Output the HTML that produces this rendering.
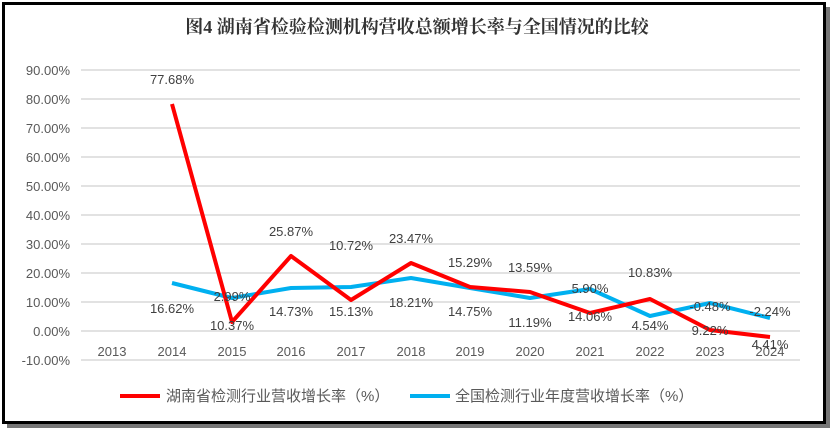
<!DOCTYPE html>
<html><head><meta charset="utf-8"><style>
html,body{margin:0;padding:0;background:#fff;}
body{width:834px;height:435px;overflow:hidden;position:relative;}
</style></head><body>
<svg width="834" height="435" xmlns="http://www.w3.org/2000/svg" style="position:absolute;left:0;top:0">
<rect x="7" y="7" width="823" height="421" fill="#777"/>
<rect x="3.5" y="3.5" width="821" height="419" fill="#fff" stroke="#000" stroke-width="3"/>
<text x="417" y="33" text-anchor="middle" font-family="'Liberation Serif','Noto Serif CJK SC',serif" font-weight="bold" font-size="18" fill="#333">图4  湖南省检验检测机构营收总额增长率与全国情况的比较</text>
<g stroke="#d9d9d9" stroke-width="1.5">
<line x1="81" x2="800" y1="70" y2="70"/><line x1="81" x2="800" y1="99" y2="99"/><line x1="81" x2="800" y1="128" y2="128"/><line x1="81" x2="800" y1="157" y2="157"/><line x1="81" x2="800" y1="186" y2="186"/><line x1="81" x2="800" y1="215" y2="215"/><line x1="81" x2="800" y1="244" y2="244"/><line x1="81" x2="800" y1="273" y2="273"/><line x1="81" x2="800" y1="302" y2="302"/><line x1="81" x2="800" y1="331" y2="331"/><line x1="81" x2="800" y1="360" y2="360"/>
</g>
<g font-family="'Liberation Sans',sans-serif" font-size="13" fill="#595959" text-anchor="end">
<text x="70" y="75">90.00%</text><text x="70" y="104">80.00%</text><text x="70" y="133">70.00%</text><text x="70" y="162">60.00%</text><text x="70" y="191">50.00%</text><text x="70" y="220">40.00%</text><text x="70" y="249">30.00%</text><text x="70" y="278">20.00%</text><text x="70" y="307">10.00%</text><text x="70" y="336">0.00%</text><text x="70" y="365">-10.00%</text>
</g>
<g font-family="'Liberation Sans',sans-serif" font-size="13" fill="#595959" text-anchor="middle">
<text x="112" y="356">2013</text><text x="172" y="356">2014</text><text x="232" y="356">2015</text><text x="291" y="356">2016</text><text x="351" y="356">2017</text><text x="411" y="356">2018</text><text x="470" y="356">2019</text><text x="530" y="356">2020</text><text x="590" y="356">2021</text><text x="650" y="356">2022</text><text x="710" y="356">2023</text><text x="770" y="356">2024</text>
</g>
<polyline fill="none" stroke="#00b0f0" stroke-width="4" stroke-linejoin="round" points="172,283 232,298 291,288 351,287 411,278 470,288 530,298 590,289 650,316 710,303 770,318"/>
<polyline fill="none" stroke="#ff0000" stroke-width="4" stroke-linejoin="round" points="172,104 232,322 291,256 351,300 411,263 470,287 530,292 590,313 650,299 710,330 770,337"/>
<g font-family="'Liberation Sans',sans-serif" font-size="13" fill="#404040" text-anchor="middle">
<text x="172" y="84">77.68%</text><text x="232" y="301">2.99%</text><text x="291" y="236">25.87%</text><text x="351" y="250">10.72%</text><text x="411" y="243">23.47%</text><text x="470" y="267">15.29%</text><text x="530" y="272">13.59%</text><text x="590" y="293">5.90%</text><text x="650" y="277">10.83%</text><text x="710" y="335">9.22%</text><text x="770" y="349">4.41%</text>
<text x="172" y="313">16.62%</text><text x="232" y="330">10.37%</text><text x="291" y="316">14.73%</text><text x="351" y="316">15.13%</text><text x="411" y="307">18.21%</text><text x="470" y="316">14.75%</text><text x="530" y="327">11.19%</text><text x="590" y="321">14.06%</text><text x="650" y="330">4.54%</text><text x="710" y="311">-0.48%</text><text x="770" y="316">-2.24%</text>
</g>
<line x1="120" x2="160" y1="396" y2="396" stroke="#ff0000" stroke-width="4"/>
<line x1="410" x2="450" y1="396" y2="396" stroke="#00b0f0" stroke-width="4"/>
<g font-family="'Liberation Sans','Noto Sans CJK SC',sans-serif" font-size="15" fill="#595959">
<text x="166" y="401">湖南省检测行业营收增长率（%）</text>
<text x="455" y="401">全国检测行业年度营收增长率（%）</text>
</g>
</svg>
</body></html>
